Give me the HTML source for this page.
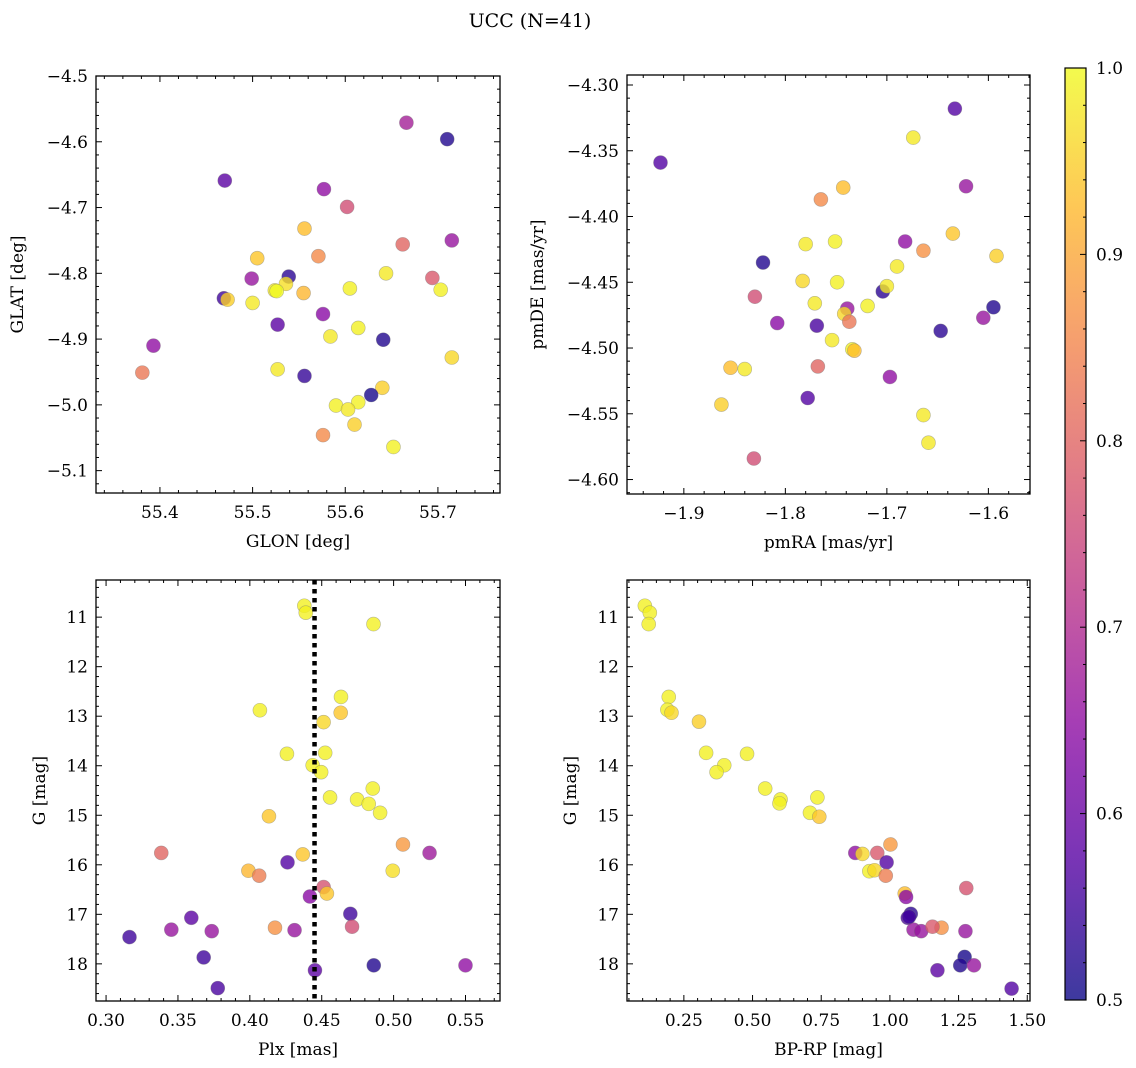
<!DOCTYPE html>
<html><head><meta charset="utf-8">
<style>
html,body{margin:0;padding:0;background:#fff;}
svg{display:block;font-family:"DejaVu Serif","Liberation Serif",serif;}
</style></head>
<body>
<svg id="fig" width="1136" height="1068" viewBox="0 0 1136 1068" xmlns="http://www.w3.org/2000/svg">
<text x="530" y="27" font-size="19" text-anchor="middle">UCC (N=41)</text>
</svg>
<script>
// ---------- data ----------
const glon = [55.666,55.710,55.470,55.577,55.602,55.556,55.662,55.715,55.505,55.571,55.644,55.539,55.499,55.694,55.536,55.524,55.526,55.555,55.605,55.703,55.469,55.473,55.500,55.576,55.527,55.614,55.584,55.641,55.393,55.715,55.381,55.527,55.556,55.640,55.628,55.590,55.614,55.603,55.610,55.576,55.652];
const glat = [-4.571,-4.596,-4.659,-4.672,-4.699,-4.732,-4.756,-4.750,-4.777,-4.774,-4.800,-4.805,-4.808,-4.807,-4.816,-4.826,-4.827,-4.830,-4.823,-4.825,-4.838,-4.840,-4.845,-4.862,-4.878,-4.883,-4.896,-4.901,-4.910,-4.928,-4.951,-4.946,-4.956,-4.974,-4.985,-5.001,-4.996,-5.007,-5.030,-5.046,-5.064];
const probP1 = [0.68,0.52,0.58,0.65,0.76,0.93,0.80,0.66,0.94,0.86,0.98,0.53,0.66,0.78,0.97,0.98,1.0,0.92,0.99,0.99,0.55,0.95,0.98,0.64,0.58,0.99,0.98,0.52,0.65,0.96,0.83,0.98,0.54,0.95,0.51,0.99,0.99,0.98,0.95,0.86,0.99];

const pmra = [-1.633,-1.674,-1.923,-1.622,-1.743,-1.765,-1.635,-1.780,-1.751,-1.682,-1.664,-1.592,-1.822,-1.690,-1.783,-1.749,-1.704,-1.700,-1.830,-1.771,-1.719,-1.739,-1.742,-1.595,-1.605,-1.737,-1.808,-1.769,-1.647,-1.754,-1.734,-1.732,-1.768,-1.854,-1.840,-1.697,-1.778,-1.863,-1.664,-1.659,-1.831];
const pmde = [-4.318,-4.340,-4.359,-4.377,-4.378,-4.387,-4.413,-4.421,-4.419,-4.419,-4.426,-4.430,-4.435,-4.438,-4.449,-4.450,-4.457,-4.453,-4.461,-4.466,-4.468,-4.470,-4.474,-4.469,-4.477,-4.480,-4.481,-4.483,-4.487,-4.494,-4.501,-4.502,-4.514,-4.515,-4.516,-4.522,-4.538,-4.543,-4.551,-4.572,-4.584];
const probP2 = [0.57,0.98,0.57,0.66,0.93,0.86,0.94,0.98,0.99,0.65,0.87,0.95,0.52,0.98,0.96,0.99,0.53,0.98,0.76,0.98,0.99,0.66,0.96,0.52,0.66,0.83,0.64,0.56,0.53,0.98,0.99,0.93,0.80,0.93,0.98,0.65,0.57,0.95,0.98,0.98,0.76];

const plx = [0.4379,0.4389,0.486,0.4634,0.407,0.4632,0.4513,0.4258,0.4524,0.4437,0.4496,0.4855,0.4558,0.4746,0.4827,0.4906,0.4133,0.5065,0.3384,0.4368,0.525,0.4262,0.399,0.4994,0.4065,0.4513,0.4536,0.4418,0.4699,0.3593,0.3454,0.3735,0.4175,0.4311,0.4711,0.3163,0.3679,0.4862,0.550,0.4453,0.3777];
const gmagP3 = [10.77,10.91,11.14,12.61,12.88,12.93,13.12,13.76,13.74,13.99,14.13,14.46,14.64,14.68,14.77,14.95,15.02,15.59,15.76,15.79,15.76,15.95,16.12,16.12,16.22,16.45,16.58,16.64,16.99,17.07,17.31,17.34,17.27,17.32,17.25,17.46,17.87,18.03,18.03,18.13,18.49];
const probP3 = [0.99,0.99,0.99,0.99,0.99,0.94,0.96,0.99,0.99,0.99,0.99,0.99,0.99,0.99,0.99,0.99,0.94,0.88,0.80,0.94,0.67,0.57,0.92,0.97,0.84,0.77,0.94,0.64,0.55,0.58,0.66,0.66,0.87,0.66,0.76,0.55,0.55,0.52,0.65,0.58,0.56];
const plxMean = [0.445];

const bprp = [0.108,0.126,0.122,0.195,0.190,0.205,0.305,0.331,0.480,0.397,0.369,0.546,0.602,0.598,0.736,0.709,0.743,1.002,0.874,0.900,0.954,0.988,0.925,0.944,0.985,1.278,1.054,1.059,1.076,1.065,1.086,1.114,1.188,1.275,1.155,1.443,1.272,1.256,1.306,1.173,1.070];
const gmagP4 = [10.77,10.91,11.14,12.61,12.87,12.93,13.11,13.74,13.76,13.99,14.13,14.46,14.68,14.76,14.64,14.95,15.03,15.59,15.76,15.78,15.76,15.95,16.13,16.11,16.22,16.47,16.58,16.65,16.99,17.07,17.31,17.34,17.27,17.34,17.25,18.50,17.86,18.03,18.03,18.13,17.05];
const probP4 = [0.99,0.99,0.99,0.99,0.99,0.96,0.95,0.99,0.99,0.99,0.99,0.99,0.99,0.99,0.99,0.99,0.94,0.88,0.65,0.96,0.78,0.57,0.99,0.96,0.84,0.77,0.93,0.64,0.53,0.56,0.66,0.66,0.87,0.66,0.78,0.57,0.51,0.52,0.66,0.58,0.55];

const cbTicks = [0.5,0.6,0.7,0.8,0.9,1.0];

// ---------- helpers ----------
const NS = "http://www.w3.org/2000/svg";
const svg = document.getElementById('fig');
function mk(tag, attrs, parent){ const e=document.createElementNS(NS,tag); for(const k in attrs) e.setAttribute(k,attrs[k]); (parent||svg).appendChild(e); return e; }
const plasmaStops = [[13,8,135],[84,2,163],[139,10,165],[185,50,137],[219,92,104],[244,136,73],[254,188,43],[240,249,33]];
function plasma(t){ t=Math.max(0,Math.min(1,t)); const n=plasmaStops.length-1; const i=Math.min(n-1,Math.floor(t*n)); const f=t*n-i; const a=plasmaStops[i], b=plasmaStops[i+1]; return `rgb(${Math.round(a[0]+(b[0]-a[0])*f)},${Math.round(a[1]+(b[1]-a[1])*f)},${Math.round(a[2]+(b[2]-a[2])*f)})`; }
const fmtMinus = s => s.replace('-', '\u2212');
const TF = 17, LF = 17;

function panel(cfg){
  const {name,x0,x1,y0,y1,xmin,xmax,ymin,ymax,invY,xMaj,xMin,yMaj,yMin,xDec,yDec,xLabel,yLabel,yLabelX} = cfg;
  const sx = v => x0 + (v-xmin)/(xmax-xmin)*(x1-x0);
  const sy = v => invY ? y0 + (v-ymin)/(ymax-ymin)*(y1-y0) : y1 - (v-ymin)/(ymax-ymin)*(y1-y0);
  const g = mk('g',{});
  
  
  const clipId = name+'-clip';
  const cp = mk('clipPath',{id:clipId},g); mk('rect',{x:x0,y:y0,width:x1-x0,height:y1-y0},cp);
  const pts = mk('g',{'clip-path':`url(#${clipId})`},g);
  
  
  cfg.xs.forEach((xv,i)=>{
    const c = mk('circle',{cx:sx(xv),cy:sy(cfg.ys[i]),r:7,fill:plasma((cfg.p[i]-0.5)/0.5),'fill-opacity':0.8,stroke:'#777','stroke-opacity':0.5,'stroke-width':0.6},pts);
    
    
  });
  if(cfg.vline!==undefined){
    const l = mk('line',{x1:sx(cfg.vline),x2:sx(cfg.vline),y1:y0,y2:y1,stroke:'#000','stroke-width':4.5,'stroke-dasharray':'4.5 4.5'},pts);
    
    
  }
  const fr = mk('rect',{x:x0,y:y0,width:x1-x0,height:y1-y0,fill:'none',stroke:'#000','stroke-width':1.3},g);
  
  
  const eps=1e-9;
  const xs0=Math.ceil((xmin-eps)/xMin), xs1=Math.floor((xmax+eps)/xMin);
  for(let k=xs0;k<=xs1;k++){ const v=k*xMin; const px=sx(v); const isMaj=Math.abs(v/xMaj-Math.round(v/xMaj))<1e-6; const L=isMaj?6:3;
    mk('line',{x1:px,x2:px,y1:y1,y2:y1-L,stroke:'#000','stroke-width':1},g);
    mk('line',{x1:px,x2:px,y1:y0,y2:y0+L,stroke:'#000','stroke-width':1},g);
    if(isMaj){ const t=mk('text',{x:px,y:y1+25,'font-size':TF,'text-anchor':'middle'},g); t.textContent=fmtMinus(v.toFixed(xDec));
        }
  }
  const ys0=Math.ceil((ymin-eps)/yMin), ys1=Math.floor((ymax+eps)/yMin);
  for(let k=ys0;k<=ys1;k++){ const v=k*yMin; const py=sy(v); const isMaj=Math.abs(v/yMaj-Math.round(v/yMaj))<1e-6; const L=isMaj?6:3;
    mk('line',{x1:x0,x2:x0+L,y1:py,y2:py,stroke:'#000','stroke-width':1},g);
    mk('line',{x1:x1,x2:x1-L,y1:py,y2:py,stroke:'#000','stroke-width':1},g);
    if(isMaj){ const t=mk('text',{x:x0-8,y:py+6,'font-size':TF,'text-anchor':'end'},g); t.textContent=fmtMinus(v.toFixed(yDec));
        }
  }
  const xl = mk('text',{x:(x0+x1)/2,y:y1+54,'font-size':LF,'text-anchor':'middle'},g); xl.textContent=xLabel;
   
  const yc=(y0+y1)/2;
  const yl = mk('text',{x:yLabelX,y:yc,'font-size':LF,'text-anchor':'middle',transform:`rotate(-90 ${yLabelX} ${yc})`},g); yl.textContent=yLabel;
   
}

panel({name:'glon-glat-panel',x0:96,x1:500,y0:76,y1:493,xmin:55.331,xmax:55.767,ymin:-5.134,ymax:-4.5,invY:false,xMaj:0.1,xMin:0.02,yMaj:0.1,yMin:0.02,xDec:1,yDec:1,xLabel:'GLON [deg]',yLabel:'GLAT [deg]',yLabelX:23,xs:glon,ys:glat,p:probP1});
panel({name:'proper-motion-panel',x0:627,x1:1030,y0:75,y1:494,xmin:-1.956,xmax:-1.559,ymin:-4.611,ymax:-4.2924,invY:false,xMaj:0.1,xMin:0.02,yMaj:0.05,yMin:0.01,xDec:1,yDec:2,xLabel:'pmRA [mas/yr]',yLabel:'pmDE [mas/yr]',yLabelX:543,xs:pmra,ys:pmde,p:probP2});
panel({name:'parallax-panel',x0:96,x1:500,y0:580,y1:1001,xmin:0.293,xmax:0.574,ymin:10.25,ymax:18.75,invY:true,xMaj:0.05,xMin:0.01,yMaj:1,yMin:0.2,xDec:2,yDec:0,xLabel:'Plx [mas]',yLabel:'G [mag]',yLabelX:45,xs:plx,ys:gmagP3,p:probP3,vline:plxMean[0]});
panel({name:'cmd-panel',x0:627,x1:1030,y0:580,y1:1001,xmin:0.043,xmax:1.51,ymin:10.25,ymax:18.75,invY:true,xMaj:0.25,xMin:0.05,yMaj:1,yMin:0.2,xDec:2,yDec:0,xLabel:'BP-RP [mag]',yLabel:'G [mag]',yLabelX:576,xs:bprp,ys:gmagP4,p:probP4});

// ---------- colorbar ----------
const cbX=1065, cbW=21, cbTop=68, cbBot=1000;
const defs = mk('defs',{});
const lg = mk('linearGradient',{id:'cbgrad',x1:0,y1:1,x2:0,y2:0},defs);
for(let i=0;i<=20;i++){ mk('stop',{offset:i/20,'stop-color':plasma(i/20)},lg); }
const cb = mk('rect',{x:cbX,y:cbTop,width:cbW,height:cbBot-cbTop,fill:'url(#cbgrad)','fill-opacity':0.8,stroke:'#000','stroke-width':1.2});


const cy = v => cbBot - (v-0.5)/0.5*(cbBot-cbTop);
for(let k=25;k<=50;k++){ const v=k/50; const py=cy(v); const maj = k%5===0; 
  mk('line',{x1:cbX+cbW,x2:cbX+cbW-(maj?6:3),y1:py,y2:py,stroke:'#000','stroke-width':1}); }
cbTicks.forEach(v=>{ const t=mk('text',{x:cbX+cbW+10,y:cy(v)+6,'font-size':TF}); t.textContent=v.toFixed(1);
    });
</script>
</body></html>
